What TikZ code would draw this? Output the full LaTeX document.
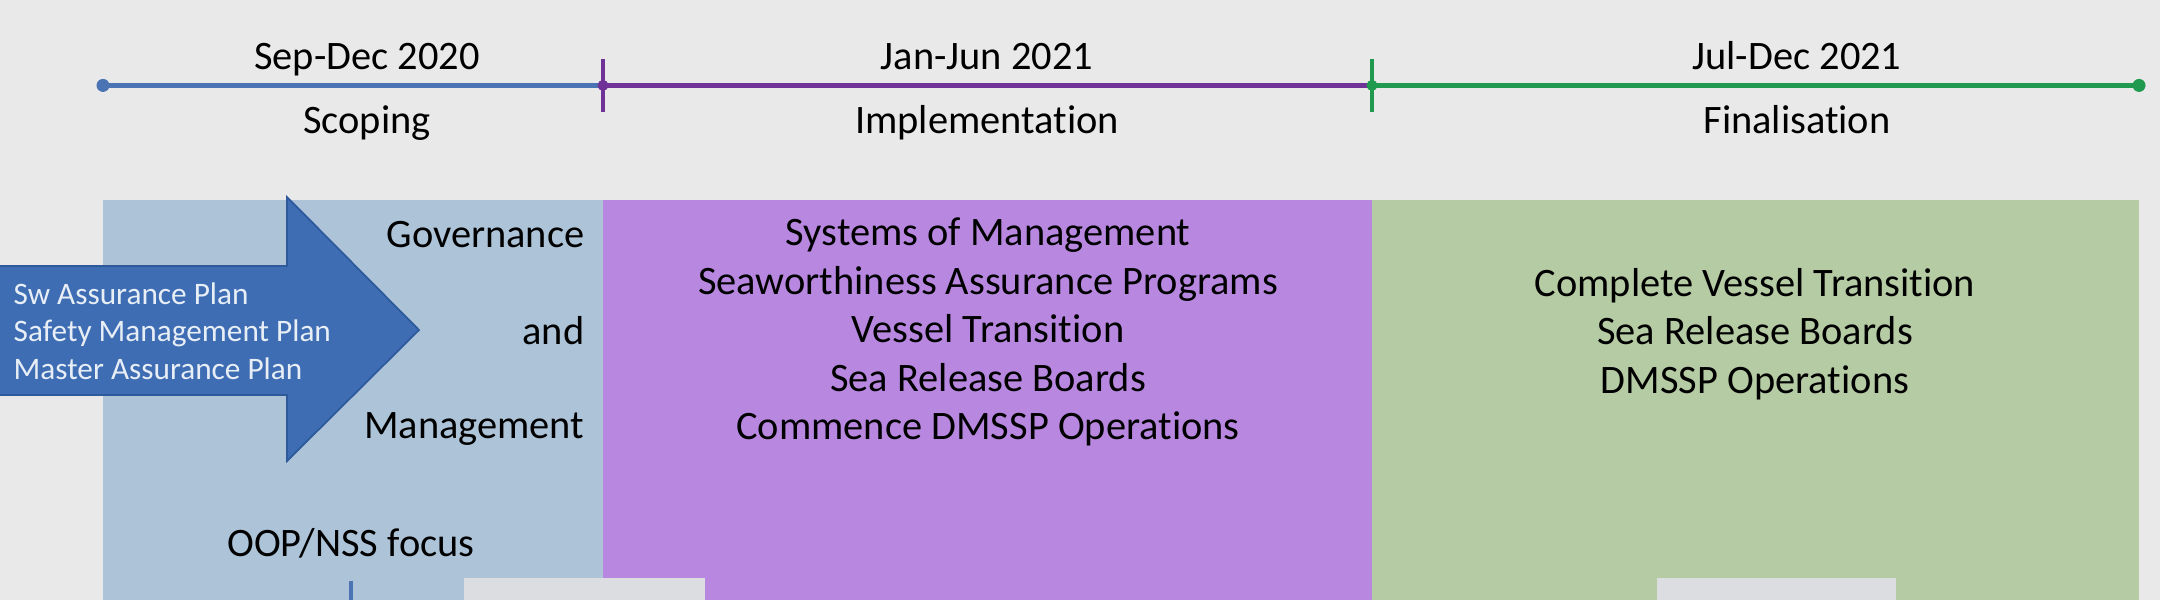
\documentclass[tikz,border=0pt]{standalone}
\usepackage{fontspec}
\setmainfont{Carlito}[Ligatures=NoCommon]
\usetikzlibrary{arrows.meta, positioning}

\definecolor{bgGrey}{HTML}{E9E9E9}
\definecolor{scopeBlue}{HTML}{ADC3D8}
\definecolor{implPurple}{HTML}{B887E0}
\definecolor{finGreen}{HTML}{B5CBA3}
\definecolor{lineBlue}{HTML}{4A74B4}
\definecolor{linePurple}{HTML}{6F3398}
\definecolor{lineGreen}{HTML}{1F9A4E}
\definecolor{arrowBlue}{HTML}{3E6DB4}
\definecolor{arrowEdge}{HTML}{2E5A9C}
\definecolor{arrowText}{HTML}{E8EEF5}
\definecolor{photoGrey}{HTML}{DCDDE1}

\tikzset{
  tline/.style={line width=1.2pt},
  tlabel/.style={inner sep=0pt, font=\fontsize{11.5}{13.8}\selectfont},
  planText/.style={inner sep=0pt, text=arrowText, align=left, font=\fontsize{8.9}{10.7}\selectfont}
}

\begin{document}
\begin{tikzpicture}[every node/.style={inner sep=0pt}]
				\fill[bgGrey] (0,0) rectangle (21.6,-6);
				\useasboundingbox (0,0) rectangle (21.6,-6);

				% phase boxes
				\fill[scopeBlue] (1.03,-2.0) rectangle (6.03,-6);
				\fill[implPurple] (6.03,-2.0) rectangle (13.72,-6);
				\fill[finGreen] (13.72,-2.0) rectangle (21.39,-6);

				% timeline
				\coordinate (t0) at (1.03,-0.854);
				\coordinate (t1) at (6.03,-0.854);
				\coordinate (t2) at (13.72,-0.854);
				\coordinate (t3) at (21.39,-0.854);

				\draw[tline, lineBlue] (t0) -- (t1);
				\draw[tline, linePurple] (t1) -- (t2);
				\draw[tline, lineGreen] (t2) -- (t3);
				\draw[tline, linePurple] ([yshift=0.26cm]t1) -- ([yshift=-0.27cm]t1);
				\draw[tline, lineGreen] ([yshift=0.26cm]t2) -- ([yshift=-0.27cm]t2);
				\fill[lineBlue] (t0) circle (0.065);
				\fill[linePurple] (t1) circle (0.055);
				\fill[lineGreen] (t2) circle (0.055);
				\fill[lineGreen] (t3) circle (0.065);

				\node[tlabel, anchor=base] (sepdec) at (3.67,-0.69) {Sep-Dec 2020};
				\node[tlabel, anchor=base] (scoping) at (3.67,-1.33) {Scoping};
				\node[tlabel, anchor=base] (janjun) at (9.87,-0.69) {Jan-Jun 2021};
				\node[tlabel, anchor=base] (impl) at (9.87,-1.33) {Implementation};
				\node[tlabel, anchor=base] (juldec) at (17.97,-0.69) {Jul-Dec 2021};
				\node[tlabel, anchor=base] (final) at (17.97,-1.33) {Finalisation};

				% plans arrow
				\draw[fill=arrowBlue, draw=arrowEdge, line width=0.5pt] (-0.1,-2.66) -- (2.87,-2.66) -- (2.87,-1.97)
				-- (4.19,-3.30) -- (2.87,-4.61) -- (2.87,-3.95) -- (-0.1,-3.95) -- cycle;
				\node[planText, anchor=west] (plans) at (0.13,-3.31) {Sw Assurance Plan\\Safety Management Plan\\Master Assurance Plan};

				\node[tlabel, anchor=east] (gov) at (5.85,-2.35) {Governance};
				\node[tlabel, anchor=east] (and) at (5.85,-3.31) {and};
				\node[tlabel, anchor=east] (mgmt) at (5.85,-4.29) {Management};

				\node[tlabel] (focus) at (3.51,-5.43) {OOP/NSS focus};
				\coordinate (focusEnd) at (3.51,-6.0);
				\draw[lineBlue, line width=0.9pt] ([yshift=-0.22cm]focus.south) -- (focusEnd);

				% phase lists
				\node[tlabel, align=center] (implList) at (9.88,-3.32) {Systems of Management\\Seaworthiness Assurance Programs\\Vessel Transition\\Sea Release Boards\\Commence DMSSP Operations};
				\node[tlabel, align=center] (finList) at (17.55,-3.34) {Complete Vessel Transition\\Sea Release Boards\\DMSSP Operations};

				% photos (cut off)
				\fill[photoGrey] (4.64,-5.78) rectangle (7.05,-6.0);
				\fill[photoGrey] (16.57,-5.78) rectangle (18.96,-6.0);
\end{tikzpicture}
\end{document}
